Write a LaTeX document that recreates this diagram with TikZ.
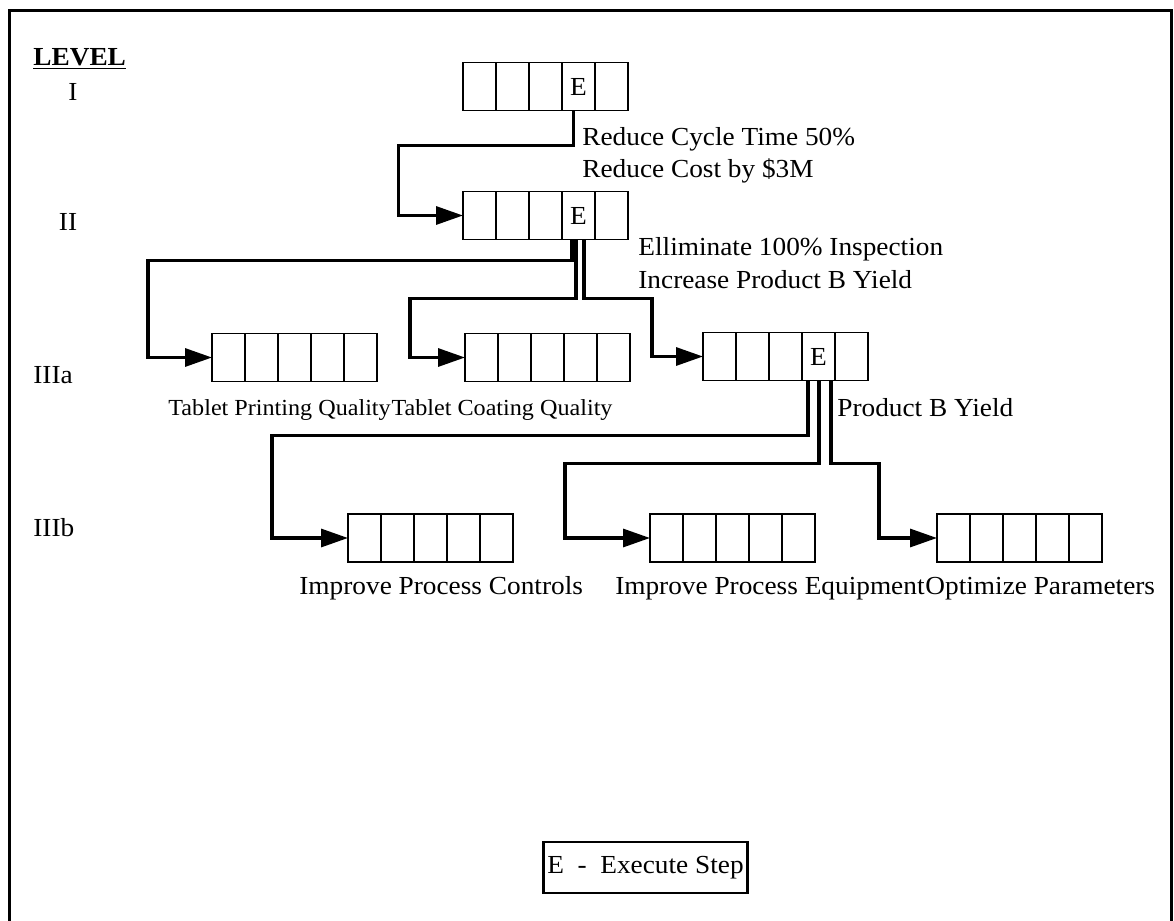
\documentclass[tikz,border=0pt]{standalone}
\usepackage{fontspec}
\setmainfont{Liberation Serif}[FakeStretch=1.05]
\usepackage{tikz}
\usetikzlibrary{arrows.meta,positioning}

\begin{document}
\begin{tikzpicture}[x=0.5pt, y=-0.5pt,
font=\fontsize{13}{15}\selectfont,
stepbar/.style={draw, line width=0.9pt, minimum width=82.5pt, minimum height=24pt, inner sep=0pt, outer sep=0pt,
  path picture={\foreach \k in {1,...,4} \draw[line width=0.9pt] ([xshift=\k*16.5pt]path picture bounding box.south west) -- ([xshift=\k*16.5pt]path picture bounding box.north west);}},
ecell/.style={minimum width=16.5pt, minimum height=24pt, inner sep=0pt, outer sep=0pt},
lbl/.style={anchor=base west, inner sep=0pt},
flow/.style={line width=1.6pt, -{Triangle[length=13.5pt,width=9pt]}}
]
\useasboundingbox (0,0) rectangle (1174,921);
\draw[line width=1.5pt] (9,921) -- (9,10) -- (1171,10) -- (1171,921);

% Level column
\node[lbl, font=\fontsize{13}{15}\selectfont\bfseries] (lvl) at (33,65) {\underline{LEVEL}};
\node[anchor=base] (lv1) at (73,100) {I};
\node[anchor=base] (lv2) at (68,230) {II};
\node[lbl] (lv3a) at (33,383) {IIIa};
\node[lbl] (lv3b) at (33,536) {IIIb};

% Level I and II
\node[stepbar] (b1) at (545.5,86.5) {};
\node[ecell] (e1) at ([xshift=57.75pt]b1.west) {E};
\node[stepbar] (b2) at (545.5,215.5) {};
\node[ecell] (e2) at ([xshift=57.75pt]b2.west) {E};

% Level IIIa
\node[stepbar] (b3a) at (294.5,357.5) {};
\node[stepbar] (b3b) at (547.5,357.5) {};
\node[stepbar] (b3c) at (785.5,356.5) {};
\node[ecell] (e3) at ([xshift=57.75pt]b3c.west) {E};

% Level IIIb
\node[stepbar] (b4a) at (430.5,538) {};
\node[stepbar] (b4b) at (732.5,538) {};
\node[stepbar] (b4c) at (1019.5,538) {};

% Labels
\node[lbl] (goal1) at (582,145) {Reduce Cycle Time 50\%};
\node[lbl] (goal2) at (582,177) {Reduce Cost by \$3M};
\node[lbl] (goal3) at (638,255) {Elliminate 100\% Inspection};
\node[lbl] (goal4) at (638,288) {Increase Product B Yield};
\node[lbl, font=\fontsize{11.5}{13}\selectfont] (n3a) at (168,415) {Tablet Printing Quality};
\node[lbl, font=\fontsize{11.5}{13}\selectfont] (n3b) at (n3a.base east) {Tablet Coating Quality};
\node[lbl] (n3c) at (837,416) {Product B Yield};
\node[lbl] (n4a) at (299,594) {Improve Process Controls};
\node[lbl] (n4c) at (925,594) {Optimize Parameters};
\node[anchor=base east, inner sep=0pt] (n4b) at (n4c.base west) {Improve Process Equipment};

% Key
\node[draw, line width=1.2pt, minimum width=101.5pt, minimum height=25.5pt, inner sep=2pt] (key) at (645.5,867.5) {E \ -\ \ Execute Step};

% Flow arrows
\draw[flow] ([xshift=-2.5pt]e1.south) -- ++(0,35) -- ++(-175,0) |- (b2.west);
\draw[flow] ([xshift=-3.25pt]e2.south) -- ++(0,21) -- ++(-424,0) |- (b3a.west);
\draw[flow] ([xshift=-1.25pt]e2.south) -- ++(0,59) -- ++(-166,0) |- (b3b.west);
\draw[flow] ([xshift=2.75pt]e2.south) -- ++(0,59) -- ++(68,0) |- (b3c.west);
\draw[flow] ([xshift=-5.25pt]e3.south) -- ++(0,55) -- ++(-536,0) |- (b4a.west);
\draw[flow] ([xshift=0.25pt]e3.south) -- ++(0,83) -- ++(-254,0) |- (b4b.west);
\draw[flow] ([xshift=6.25pt]e3.south) -- ++(0,83) -- ++(48,0) |- (b4c.west);
\end{tikzpicture}
\end{document}
